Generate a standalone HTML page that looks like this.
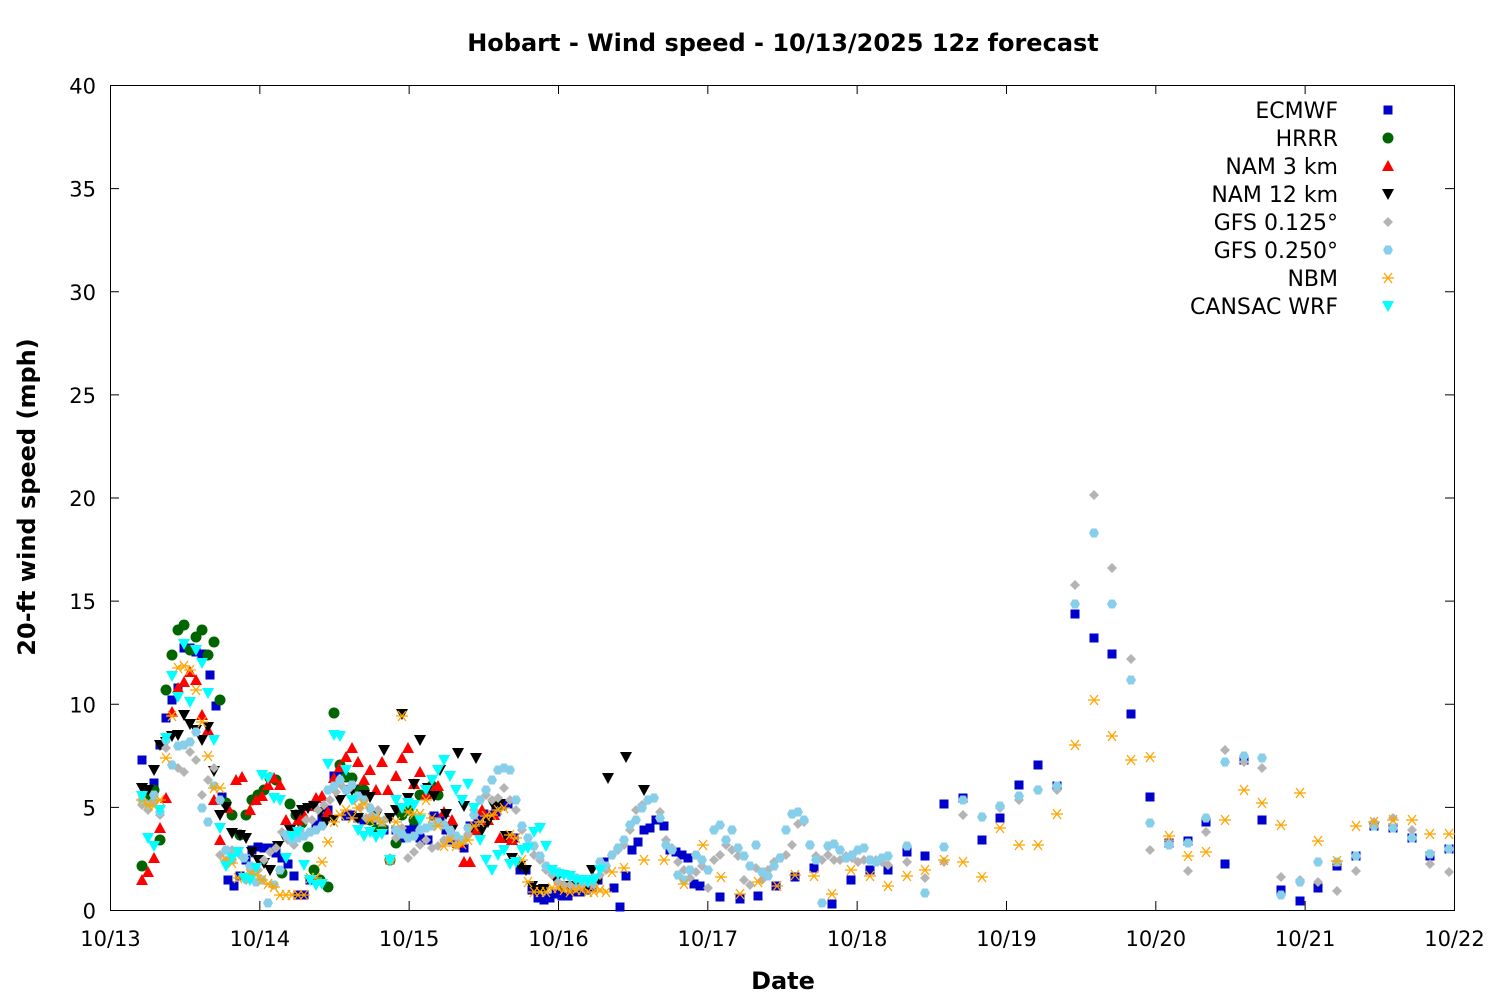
<!DOCTYPE html>
<html><head><meta charset="utf-8"><style>
body{margin:0;background:#fff}
svg text{font-family:"DejaVu Sans","Liberation Sans",sans-serif;}
</style></head><body>
<svg id="s" width="1500" height="1000" xmlns="http://www.w3.org/2000/svg">
<rect width="1500" height="1000" fill="#fff"/>
<text x="783" y="51" text-anchor="middle" font-size="24" font-weight="bold">Hobart - Wind speed - 10/13/2025 12z forecast</text>
<text x="783" y="989" text-anchor="middle" font-size="24" font-weight="bold">Date</text>
<text transform="translate(35,497) rotate(-90)" text-anchor="middle" font-size="24" font-weight="bold">20-ft wind speed (mph)</text>
<g id="ax" stroke="#000" stroke-width="1" fill="none"></g>
<g id="lab" font-size="21"></g>
<g id="leg" font-size="22"></g>
<g id="pts"></g>
</svg>
<script>
const NS="http://www.w3.org/2000/svg";
function el(p,t,a,txt){const e=document.createElementNS(NS,t);for(const k in a)e.setAttribute(k,a[k]);if(txt!==undefined)e.textContent=txt;p.appendChild(e);return e;}
const ax=document.getElementById('ax'),lab=document.getElementById('lab'),pts=document.getElementById('pts'),leg=document.getElementById('leg');
el(ax,'rect',{x:110.5,y:85.5,width:1344,height:825});
for(let i=0;i<=8;i++){const y=910.5-i*103.125;el(ax,'line',{x1:110,y1:y,x2:119,y2:y});el(ax,'line',{x1:1454,y1:y,x2:1445,y2:y});
el(lab,'text',{x:96,y:y+8,'text-anchor':'end'},String(i*5));}
const days=['10/13','10/14','10/15','10/16','10/17','10/18','10/19','10/20','10/21','10/22'];
for(let i=0;i<=9;i++){const x=110.5+i*149.33;el(ax,'line',{x1:x,y1:910,x2:x,y2:901});el(ax,'line',{x1:x,y1:85,x2:x,y2:94});
el(lab,'text',{x:x,y:946,'text-anchor':'middle'},days[i]);}
function P(s){const a=s.match(/-?\d+/g).map(Number);const r=[];for(let i=0;i<a.length;i+=2)r.push([a[i],a[i+1]]);return r;}
function mk(g,type,c,x,y){
 if(type=='sq')el(g,'rect',{x:x-4.5,y:y-4.5,width:9,height:9,fill:c});
 else if(type=='ci')el(g,'circle',{cx:x,cy:y,r:5.5,fill:c});
 else if(type=='tu')el(g,'polygon',{points:`${x},${y-6} ${x+6},${y+5} ${x-6},${y+5}`,fill:c});
 else if(type=='td')el(g,'polygon',{points:`${x-6},${y-5} ${x+6},${y-5} ${x},${y+6}`,fill:c});
 else if(type=='di')el(g,'polygon',{points:`${x},${y-5} ${x+5},${y} ${x},${y+5} ${x-5},${y}`,fill:c});
 else if(type=='hx')el(g,'polygon',{points:`${x-5},${y} ${x-2.5},${y-4.5} ${x+2.5},${y-4.5} ${x+5},${y} ${x+2.5},${y+4.5} ${x-2.5},${y+4.5}`,fill:c});
 else if(type=='as'){const gg=el(g,'g',{stroke:c,'stroke-width':1.3});el(gg,'line',{x1:x-6,y1:y,x2:x+6,y2:y});el(gg,'line',{x1:x-4,y1:y-5,x2:x+4,y2:y+5});el(gg,'line',{x1:x-4,y1:y+5,x2:x+4,y2:y-5});}
}
const S=[
['ECMWF','sq','#0000cc',"(142,760),(148,793),(154,783),(160,745),(166,718),(172,700),(178,688),(184,648),(190,648),(196,652),(202,654),(210,675),(216,706),(222,797),(228,880),(234,886),(240,876),(246,860),(252,850),(258,847),(264,848),(270,848),(276,853),(282,858),(288,864),(294,876),(298,895),(304,895),(310,880),(316,825),(322,818),(328,810),(334,776),(340,770),(346,816),(352,815),(358,818),(364,820),(372,820),(378,830),(384,830),(390,860),(396,830),(402,838),(408,830),(414,828),(420,838),(428,840),(434,816),(440,818),(446,830),(452,840),(458,842),(464,848),(470,826),(478,820),(484,814),(490,815),(496,812),(502,806),(508,804),(514,838),(520,870),(526,870),(532,890),(538,898),(544,900),(550,898),(556,894),(562,896),(568,896),(574,892),(580,892),(586,890),(592,888),(598,880),(604,862),(614,888),(620,907),(626,876),(632,850),(638,842),(644,830),(650,828),(656,820),(664,826),(670,850),(676,852),(682,855),(688,858),(694,884),(700,886),(720,897),(740,899),(758,896),(776,886),(795,877),(814,868),(832,904),(851,880),(870,870),(888,870),(907,852),(925,856),(944,804),(963,798),(982,840),(1000,818),(1019,785),(1038,765),(1057,786),(1075,614),(1094,638),(1112,654),(1131,714),(1150,797),(1169,843),(1188,841),(1206,822),(1225,864),(1244,760),(1262,820),(1281,890),(1300,901),(1318,888),(1337,866),(1356,856),(1374,826),(1393,828),(1412,838),(1430,856),(1449,849)"],
['HRRR','ci','#006400',"(142,866),(148,795),(154,790),(160,840),(166,690),(172,655),(178,630),(184,625),(190,650),(196,637),(202,630),(208,655),(214,642),(220,700),(226,803),(232,815),(240,835),(246,815),(252,800),(258,795),(264,790),(270,778),(276,780),(282,873),(290,804),(296,815),(302,823),(308,847),(314,870),(320,880),(328,887),(334,713),(340,765),(346,777),(352,778),(358,790),(364,790),(370,820),(376,830),(382,828),(390,860),(396,843),(402,815),(408,810),(414,820),(420,795),(426,795),(432,786),(438,795)"],
['NAM 3 km','tu','#ff0000',"(142,880),(148,872),(154,858),(160,828),(166,798),(172,712),(178,688),(184,682),(190,672),(196,680),(202,715),(208,730),(214,800),(220,840),(228,808),(236,780),(242,777),(250,810),(256,800),(262,796),(268,785),(274,778),(280,785),(286,820),(292,830),(298,820),(304,815),(310,806),(316,798),(322,796),(328,812),(334,778),(340,767),(346,757),(352,748),(358,762),(364,780),(370,770),(376,790),(382,762),(388,790),(396,776),(402,758),(408,748),(414,784),(420,772),(426,794),(432,788),(438,786),(444,812),(452,820),(458,843),(464,862),(470,862),(476,830),(482,810),(488,820),(494,815),(500,838),(506,838),(512,840)"],
['NAM 12 km','td','#000000',"(142,788),(148,790),(154,770),(160,745),(166,742),(172,736),(178,735),(184,715),(190,724),(196,730),(202,740),(208,727),(214,771),(220,815),(226,807),(232,833),(240,835),(246,838),(252,852),(258,860),(264,863),(270,870),(278,846),(284,836),(290,830),(296,815),(302,810),(308,808),(314,806),(320,812),(326,822),(334,820),(340,800),(346,790),(352,790),(358,818),(364,795),(370,797),(376,816),(384,750),(390,818),(396,810),(402,714),(408,798),(414,784),(420,740),(428,788),(434,796),(440,770),(446,814),(452,830),(458,753),(464,806),(470,830),(476,758),(482,830),(488,822),(494,806),(500,804),(506,836),(512,858),(520,866),(526,870),(532,886),(538,890),(544,889),(550,870),(556,880),(562,886),(568,886),(574,886),(580,886),(586,886),(592,870),(598,880),(608,778),(626,757),(644,790)"],
['GFS 0.125°','di','#b4b4b4',"(142,805),(148,810),(154,800),(160,815),(166,748),(172,765),(178,768),(184,772),(190,752),(196,760),(202,795),(208,780),(214,768),(220,855),(226,860),(232,850),(240,855),(246,880),(252,870),(258,870),(264,860),(270,852),(276,848),(282,832),(288,840),(294,845),(300,830),(306,820),(312,820),(318,810),(324,805),(330,800),(336,792),(342,786),(348,790),(354,800),(360,808),(366,818),(372,815),(378,810),(384,820),(390,858),(396,838),(402,828),(408,858),(414,852),(420,845),(426,840),(432,848),(438,846),(444,840),(450,838),(456,845),(462,840),(468,834),(474,810),(480,800),(486,795),(492,800),(498,798),(504,788),(510,800),(516,810),(522,830),(528,845),(534,855),(540,860),(546,870),(552,875),(558,882),(564,885),(570,885),(576,888),(582,885),(588,883),(594,885),(600,875),(606,870),(612,855),(618,850),(624,845),(630,830),(636,810),(642,805),(648,800),(654,798),(660,812),(666,840),(672,848),(678,862),(684,870),(690,878),(696,872),(702,866),(708,888),(714,860),(720,855),(726,845),(732,850),(738,856),(744,880),(750,885),(756,868),(762,880),(768,870),(774,862),(780,858),(786,855),(792,845),(798,824),(804,822),(810,845),(816,856),(822,860),(828,855),(834,860),(840,860),(846,856),(852,858),(858,862),(864,860),(870,860),(876,860),(882,862),(888,865),(907,862),(925,878),(944,862),(963,815),(982,817),(1000,808),(1019,800),(1038,790),(1057,790),(1075,585),(1094,495),(1112,568),(1131,659),(1150,850),(1169,843),(1188,871),(1206,832),(1225,750),(1244,762),(1262,768),(1281,877),(1300,880),(1318,882),(1337,891),(1356,871),(1374,822),(1393,818),(1412,830),(1430,864),(1449,872)"],
['GFS 0.250°','hx','#87ceeb',"(142,800),(148,805),(154,795),(160,812),(166,740),(172,765),(178,746),(184,745),(190,742),(196,732),(202,808),(208,822),(214,786),(220,800),(226,850),(232,860),(238,852),(244,858),(250,866),(256,882),(262,880),(268,903),(274,885),(280,870),(286,835),(292,840),(298,838),(304,836),(310,832),(316,830),(322,826),(328,790),(334,786),(340,780),(346,790),(352,785),(358,796),(364,800),(370,808),(376,818),(382,822),(390,860),(396,830),(402,834),(408,838),(414,836),(420,830),(426,828),(432,826),(438,822),(444,825),(450,830),(456,836),(462,840),(468,828),(474,815),(480,800),(486,790),(492,780),(498,770),(504,768),(510,770),(516,800),(522,826),(528,838),(534,846),(540,856),(546,866),(552,870),(558,872),(564,874),(570,876),(576,878),(582,880),(588,880),(594,878),(600,862),(606,866),(612,855),(618,848),(624,840),(630,825),(636,820),(642,808),(648,800),(654,798),(660,818),(666,845),(672,850),(678,875),(684,880),(690,870),(696,855),(702,860),(708,870),(714,830),(720,825),(726,840),(732,830),(738,848),(744,856),(750,866),(756,845),(762,872),(768,876),(774,866),(780,858),(786,830),(792,814),(798,812),(804,820),(810,845),(816,860),(822,903),(828,846),(834,844),(840,850),(846,858),(852,855),(858,850),(864,848),(870,860),(876,862),(882,858),(888,856),(907,846),(925,893),(944,847),(963,800),(982,817),(1000,806),(1019,796),(1038,790),(1057,786),(1075,604),(1094,533),(1112,604),(1131,680),(1150,823),(1169,845),(1188,843),(1206,818),(1225,762),(1244,756),(1262,758),(1281,895),(1300,882),(1318,862),(1337,862),(1356,856),(1374,826),(1393,828),(1412,838),(1430,854),(1449,849)"],
['NBM','as','#ffa500',"(142,800),(148,805),(154,806),(160,800),(166,758),(172,716),(178,668),(184,666),(190,670),(196,690),(202,722),(208,756),(214,788),(220,788),(226,860),(232,863),(238,878),(244,876),(250,874),(256,875),(262,880),(268,884),(274,887),(280,895),(286,895),(292,895),(298,895),(304,895),(310,878),(316,878),(322,862),(328,842),(334,822),(340,815),(346,810),(352,818),(358,808),(364,804),(370,820),(376,818),(382,822),(390,860),(396,822),(402,716),(408,812),(414,814),(420,814),(426,800),(432,818),(438,826),(444,846),(450,840),(456,846),(462,844),(468,840),(474,826),(480,822),(486,816),(492,815),(498,810),(504,808),(510,835),(516,838),(522,860),(528,882),(534,892),(540,892),(546,892),(552,888),(558,888),(564,890),(570,892),(576,890),(582,890),(588,892),(594,892),(600,890),(606,892),(612,872),(624,868),(644,860),(664,860),(684,884),(703,845),(721,877),(740,894),(758,882),(777,886),(795,875),(814,876),(832,894),(851,870),(870,876),(888,886),(907,876),(925,870),(944,860),(963,862),(982,877),(1000,828),(1019,845),(1038,845),(1057,814),(1075,745),(1094,700),(1112,736),(1131,760),(1150,757),(1169,836),(1188,856),(1206,852),(1225,820),(1244,790),(1262,803),(1281,825),(1300,793),(1318,841),(1337,861),(1356,826),(1374,822),(1393,820),(1412,820),(1430,834),(1449,834)"],
['CANSAC WRF','td','#00ffff',"(142,796),(148,838),(154,846),(160,810),(166,738),(172,676),(178,697),(184,644),(190,702),(196,650),(202,663),(208,693),(214,740),(220,828),(226,866),(232,858),(238,852),(244,878),(250,880),(256,868),(262,775),(268,778),(274,798),(280,800),(286,858),(292,836),(298,832),(304,865),(310,880),(316,885),(322,884),(328,764),(334,735),(340,736),(346,770),(352,800),(358,830),(364,836),(370,832),(376,837),(382,834),(390,860),(396,800),(402,808),(408,803),(414,805),(420,820),(426,790),(432,780),(438,770),(444,760),(450,776),(456,790),(462,800),(468,784),(474,808),(480,840),(486,860),(492,870),(498,855),(504,850),(510,864),(516,862),(522,850),(528,848),(534,832),(540,828),(546,846),(552,870),(558,874),(564,875),(570,876),(576,880),(582,880),(588,882),(594,880),(600,870)"]
];
S.forEach((s,i)=>{const g=el(pts,'g',{});P(s[3]).forEach(p=>mk(g,s[1],s[2],p[0],p[1]));
 const y=110+i*28;el(leg,'text',{x:1338,y:y+8,'text-anchor':'end'},s[0]);mk(g,s[1],s[2],1388,y);});
</script>
</body></html>
